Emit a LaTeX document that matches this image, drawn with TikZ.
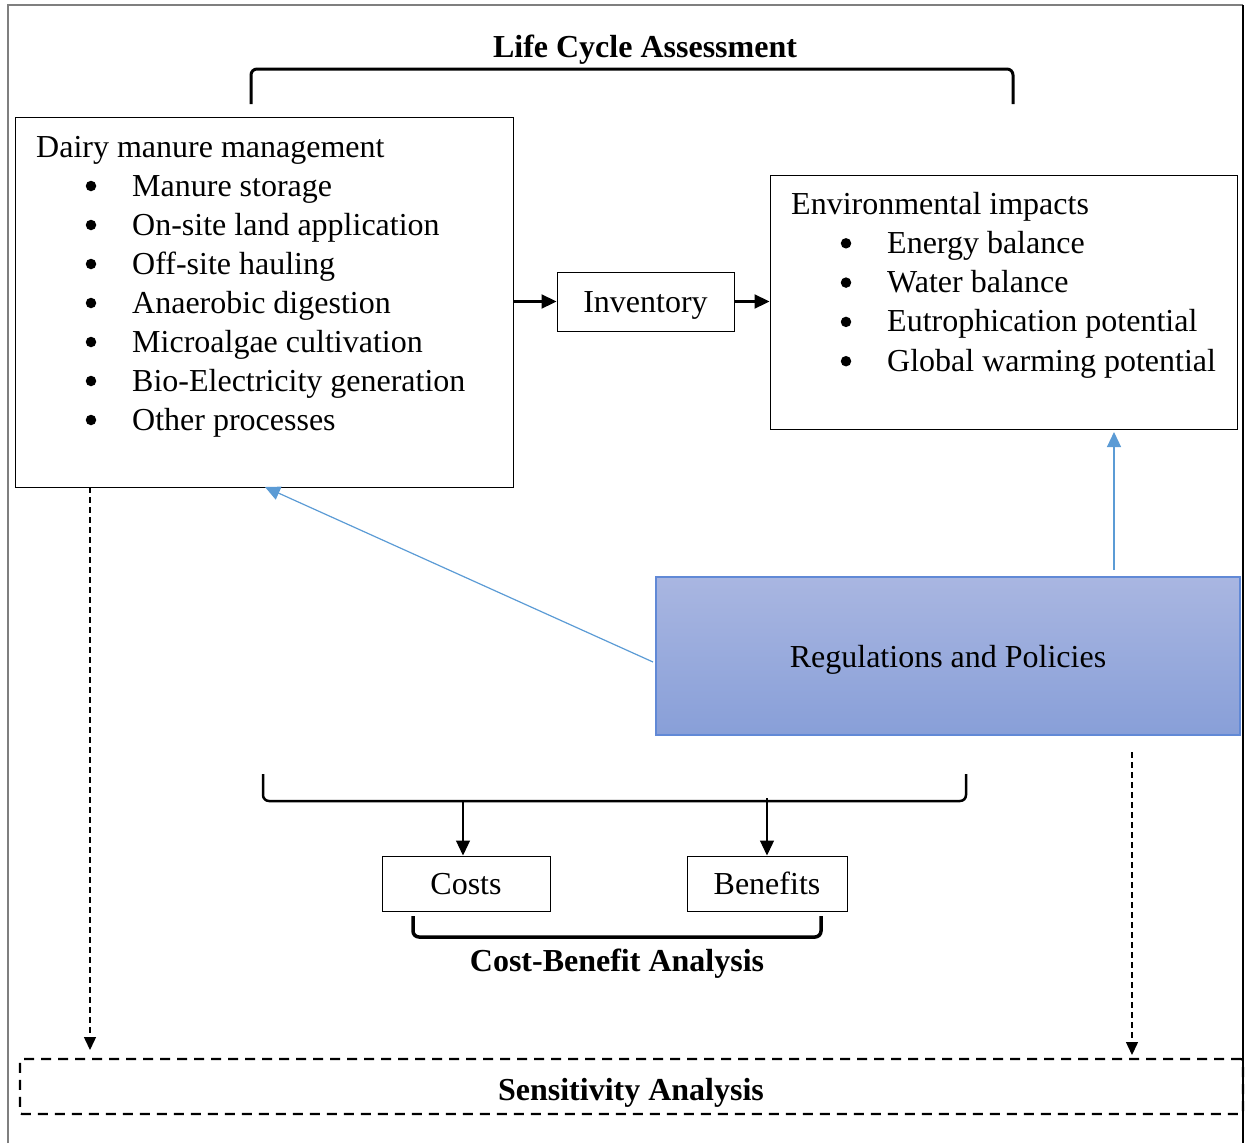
\documentclass[tikz,border=0pt]{standalone}
\usepackage{fontspec}
\setmainfont{Liberation Serif}
\usetikzlibrary{arrows.meta}
\definecolor{regtop}{HTML}{A9B6E1}
\definecolor{regbot}{HTML}{889FD8}
\definecolor{regborder}{HTML}{6189D6}
\definecolor{arrowblue}{HTML}{5B9BD5}
\definecolor{framegray}{HTML}{7F7F7F}
\tikzset{
  ctext/.style={text height=24pt, text depth=2pt},
  box/.style={draw, line width=1pt, inner sep=0pt, ctext},
  txt/.style={inner sep=0pt, anchor=base west},
  bul/.style={circle, fill=black, inner sep=0pt, minimum size=10.5pt},
  bold/.style={inner sep=0pt, ctext, font=\fontsize{32}{39}\selectfont\bfseries},
  blk/.style={-{Triangle[length=15pt,width=14pt]}, line width=2.2pt},
  thin/.style={-{Triangle[length=15pt,width=14pt]}, line width=1.2pt},
  blu/.style={-{Triangle[length=15pt,width=14pt]}, line width=1.2pt, draw=arrowblue, color=arrowblue},
  dsh/.style={-{Triangle[length=13pt,width=12pt]}, line width=1.4pt, dash pattern=on 6pt off 4pt},
  brk/.style={line width=3pt, rounded corners=6pt},
}
\begin{document}
\begin{tikzpicture}[x=1pt,y=-1pt,font=\fontsize{32}{39}\selectfont]
\useasboundingbox (0,0) rectangle (1249,1143);
% outer frame
\draw[framegray, line width=2pt] (8,1143) -- (8,5) -- (1243,5);
\draw[black, line width=2pt] (1243,5) -- (1243,1143);

% LCA bracket and title
\node[bold] (lca) at (645,46) {Life Cycle Assessment};
\draw[brk] (251,104) -- (251,69) -- (1013,69) -- (1013,104);

% Dairy box
\node[box, minimum width=498pt, minimum height=370pt] (dairy) at (264,302) {};
\node[txt] (d0) at (36,157) {Dairy manure management};
\foreach \t [count=\i] in {Manure storage, On-site land application, Off-site hauling, Anaerobic digestion, Microalgae cultivation, Bio-Electricity generation, Other processes} {
  \node[bul] (db\i) at (91,147+39*\i) {};
  \node[txt] (dt\i) at (132,157+39*\i) {\t};
}

% Inventory
\node[box, minimum width=177pt, minimum height=59pt] (inv) at (645.5,301.5) {Inventory};

% Environmental box
\node[box, minimum width=467pt, minimum height=254pt] (env) at (1003.5,302) {};
\node[txt] (e0) at (791,214) {Environmental impacts};
\foreach \t [count=\i] in {Energy balance, Water balance, Eutrophication potential, Global warming potential} {
  \node[bul] (eb\i) at (846,204+39.3*\i) {};
  \node[txt] (et\i) at (887,214+39.3*\i) {\t};
}

\draw[blk] (dairy.east |- inv.west) -- (inv.west);
\draw[blk] (inv.east) -- (env.west |- inv.east);

% Regulations
\node[draw=regborder, line width=1.2pt, top color=regtop, bottom color=regbot, minimum width=584pt, minimum height=158pt, inner sep=0pt, ctext] (reg) at (948,656) {Regulations and Policies};

\coordinate (rl) at (653,662);
\coordinate (dl) at (265,487);
\draw[blu] (rl) -- (dl);
\coordinate (rt) at (1114,570);
\coordinate (et) at (1114,432);
\draw[blu] (rt) -- (et);

% Sensitivity box
\node[draw, line width=2.2pt, dash pattern=on 10pt off 7pt, minimum width=1223pt, minimum height=55pt, inner sep=0pt, rounded corners=2pt] (sens) at (631.5,1086.5) {};
\node[bold] (senst) at (631,1089) {Sensitivity Analysis};

\draw[dsh] (90,487) -- (90,1050);
\coordinate (rd) at (1132,752);
\draw[dsh] (rd) -- (1132,1055);

% CBA bracket
\draw[brk, line width=2.5pt] (263,774) -- (263,801) -- (966,801) -- (966,774);
\node[box, minimum width=168pt, minimum height=55pt] (costs) at (466,883.5) {Costs};
\node[box, minimum width=160pt, minimum height=55pt] (ben) at (767,883.5) {Benefits};
\draw[thin] (463,801) -- (costs.north -| 463,0);
\draw[thin] (767,798) -- (ben.north);
\draw[brk, line width=3.5pt] (413,916) -- (413,937) -- (821,937) -- (821,916);
\node[bold] (cba) at (617,960) {Cost-Benefit Analysis};
\end{tikzpicture}
\end{document}
